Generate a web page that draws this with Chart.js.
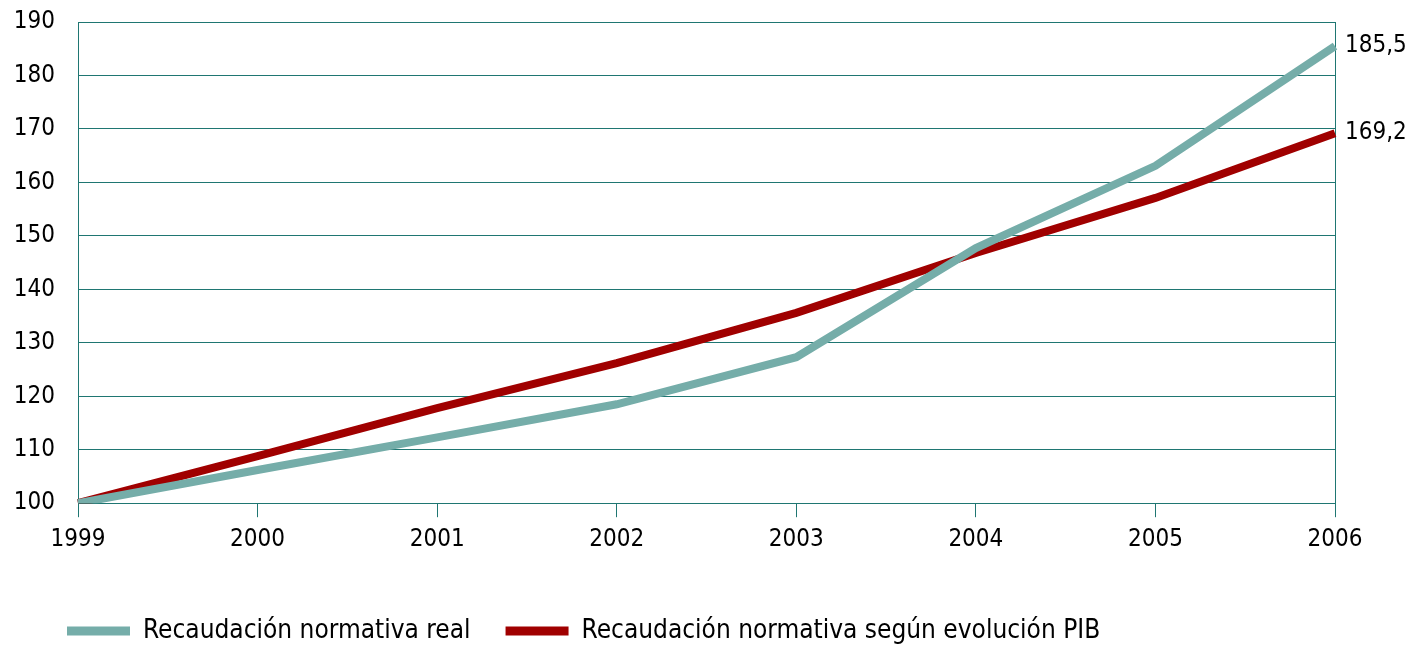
<!DOCTYPE html>
<html>
<head>
<meta charset="utf-8">
<script src="https://cdn.jsdelivr.net/npm/chart.js@4/dist/chart.umd.min.js"></script>
<style>
  body { margin: 0; background: #fff; }
  #wrap { width: 1407px; height: 646px; position: relative; }
</style>
</head>
<body>
<div id="wrap"><canvas id="canvas"></canvas></div>
<script>
// data
var years = ["1999", "2000", "2001", "2002", "2003", "2004", "2005", "2006"];
var realValues = [100, 106.2, 112.3, 118.5, 127.3, 147.7, 163.1, 185.5];
var pibValues = [100, 108.8, 117.8, 126.2, 135.6, 146.8, 157.1, 169.2];
var seriesNames = ["Recaudación normativa real", "Recaudación normativa según evolución PIB"];

var gridColor = "#1f7672";
var fontFamily = "'DejaVu Sans Condensed', 'DejaVu Sans', sans-serif";

// writes the last value next to the end of each line
const endLabels = {
  id: "endLabels",
  afterDatasetsDraw(chart) {
    var ctx = chart.ctx;
    ctx.save();
    ctx.font = "24px " + fontFamily;
    ctx.fillStyle = "#000";
    ctx.textBaseline = "middle";
    ctx.textAlign = "left";
    chart.data.datasets.forEach(function (ds, i) {
      var pts = chart.getDatasetMeta(i).data;
      var last = pts[pts.length - 1];
      var v = ds.data[ds.data.length - 1];
      ctx.fillText(v.toFixed(1).replace(".", ","), last.x + 10, last.y);
    });
    ctx.restore();
  },
  // legend starts a bit to the right of the canvas edge
  beforeDraw(chart) {
    if (chart.legend) chart.legend.left = 32;
  },
};

const ctx = document.getElementById("canvas").getContext("2d");

const myChart = new Chart(ctx, {
  type: "line",
  data: {
    labels: years,
    datasets: [
      {
        label: seriesNames[0],
        data: realValues,
        borderColor: "#75ada9",
        backgroundColor: "#75ada9",
        borderWidth: 8,
        pointRadius: 0,
        tension: 0,
      },
      {
        label: seriesNames[1],
        data: pibValues,
        borderColor: "#a00000",
        backgroundColor: "#a00000",
        borderWidth: 8,
        pointRadius: 0,
        tension: 0,
      },
    ],
  },
  options: {
    responsive: true,
    maintainAspectRatio: false,
    animation: false,
    layout: {
      padding: { left: 0, right: 72, top: 22, bottom: -8 },
    },
    scales: {
      x: {
        offset: false,
        afterFit: function (scale) {
          scale.height += 21;
        },
        grid: {
          color: function (c) {
            return c.index === years.length - 1 ? gridColor : "transparent";
          },
          tickColor: gridColor,
          tickLength: 14,
          drawOnChartArea: true,
        },
        border: { display: true, color: gridColor },
        ticks: {
          color: "#000",
          font: { family: fontFamily, size: 24 },
          padding: 8,
          maxRotation: 0,
        },
      },
      y: {
        min: 100,
        max: 190,
        afterFit: function (scale) {
          scale.width = 78;
        },
        // invisible ticks keep the labels off the axis
        grid: { color: gridColor, tickColor: "transparent", tickLength: 23 },
        border: { display: true, color: gridColor },
        ticks: {
          stepSize: 10,
          color: "#000",
          padding: 0,
          font: { family: fontFamily, size: 24 },
        },
      },
    },
    plugins: {
      tooltip: { enabled: false },
      legend: {
        position: "bottom",
        align: "start",
        labels: {
          boxWidth: 63,
          boxHeight: 9,
          padding: 35,
          color: "#000",
          font: { family: fontFamily, size: 26 },
          generateLabels: function (chart) {
            var items = Chart.defaults.plugins.legend.labels.generateLabels(chart);
            items.forEach(function (it) {
              it.lineWidth = 0;
            });
            return items;
          },
        },
      },
    },
  },
  plugins: [endLabels],
});
</script>
</body>
</html>
